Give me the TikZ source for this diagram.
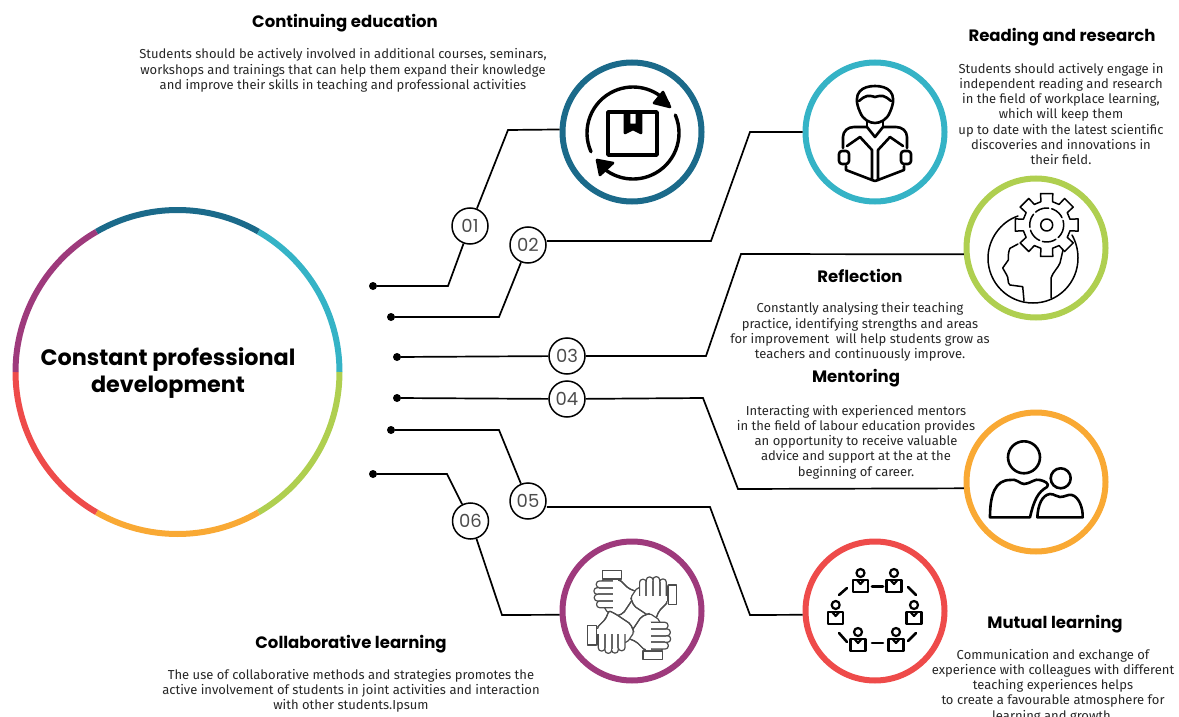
\documentclass[tikz,border=0pt]{standalone}
\usepackage{fontspec}
\setmainfont{Fira Sans}
\newfontfamily\numfont{Poppins}
\newfontfamily\headfont{Poppins}
\definecolor{cblue}{HTML}{1B6A8A}
\definecolor{cteal}{HTML}{35B3C6}
\definecolor{cgreen}{HTML}{AFCF50}
\definecolor{corange}{HTML}{F9A934}
\definecolor{cred}{HTML}{EE4B4A}
\definecolor{cpurple}{HTML}{9E3A7C}
\tikzset{
  seg/.style={line width=6pt},
  ringnode/.style={circle,draw,line width=6pt,minimum size=139pt,inner sep=0pt},
  numnode/.style={circle,draw=black,line width=1.5pt,fill=white,minimum size=36pt,inner sep=0pt,font=\numfont\fontsize{18}{18}\selectfont,text=black!70},
  conn/.style={draw=black,line width=1.7pt},
  dotnode/.style={circle,fill=black,minimum size=8pt,inner sep=0pt},
  titletext/.style={font=\headfont\bfseries\fontsize{16.5}{19}\selectfont,text=black,inner sep=0pt},
  bodytext/.style={font=\fontsize{13}{15.3}\selectfont,text=black!85,align=center,inner sep=0pt},
  iconthick/.style={draw=black,line width=3.4pt,line join=round,line cap=round},
  iconmid/.style={draw=black,line width=2.6pt,line join=round,line cap=round},
  iconthin/.style={draw=black,line width=1.5pt,line join=round,line cap=round},
  handline/.style={draw=black!70,line width=1.2pt,line join=round,fill=white},
  handfinger/.style={draw=black!60,line width=2pt},
}
\begin{document}
\begin{tikzpicture}[x=1pt,y=1pt,yscale=-1]
\clip (0,0) rectangle (1179,717);
% big ring
\coordinate (bigc) at (177.5,372);
\draw[seg,cblue]   (bigc) ++(240:162) arc[start angle=240,end angle=300,radius=162];
\draw[seg,cteal]   (bigc) ++(300:162) arc[start angle=300,end angle=360,radius=162];
\draw[seg,cgreen]  (bigc) ++(0:162)   arc[start angle=0,end angle=60,radius=162];
\draw[seg,corange] (bigc) ++(60:162)  arc[start angle=60,end angle=120,radius=162];
\draw[seg,cred]    (bigc) ++(120:162) arc[start angle=120,end angle=180,radius=162];
\draw[seg,cpurple] (bigc) ++(180:162) arc[start angle=180,end angle=240,radius=162];
\node[font=\headfont\bfseries\fontsize{22.3}{27}\selectfont,align=center,inner sep=0pt] (maintitle) at (168,373) {Constant professional\\development};
% rings
\node[ringnode,draw=cblue]   (r1) at (632,132) {};
\node[ringnode,draw=cteal]   (r2) at (875,132) {};
\node[ringnode,draw=cgreen]  (r3) at (1036,248) {};
\node[ringnode,draw=corange] (r4) at (1036,482) {};
\node[ringnode,draw=cred]    (r5) at (875,611) {};
\node[ringnode,draw=cpurple] (r6) at (632,611) {};
% bends
\coordinate (b1a) at (448,286);
\coordinate (b1b) at (508,130);
\coordinate (b2a) at (499,317);
\coordinate (b2b) at (711,241);
\coordinate (b2c) at (750,132);
\coordinate (b3a) at (706,356);
\coordinate (b3b) at (741,254);
\coordinate (b4a) at (703,398);
\coordinate (b4b) at (738,489);
\coordinate (b5a) at (499,430);
\coordinate (b5b) at (710,507);
\coordinate (b5c) at (750,615);
\coordinate (b6a) at (447,474);
\coordinate (b6b) at (502,615);
% number nodes
\node[numnode] (n1) at (470,226) {01};
\node[numnode] (n2) at (528,245) {02};
\node[numnode] (n3) at (567,356) {03};
\node[numnode] (n4) at (567,399) {04};
\node[numnode] (n5) at (528,501) {05};
\node[numnode] (n6) at (470.5,521) {06};
% dots
\node[dotnode] (d1) at (373,286) {};
\node[dotnode] (d2) at (391,317) {};
\node[dotnode] (d3) at (397,357) {};
\node[dotnode] (d4) at (397,398) {};
\node[dotnode] (d5) at (391,430) {};
\node[dotnode] (d6) at (373,474) {};
% connectors
\draw[conn] (d1) -- (b1a) -- (n1);
\draw[conn] (n1) -- (b1b) -- (r1.178);
\draw[conn] (d2) -- (b2a) -- (n2);
\draw[conn] (n2.east |- b2b) -- (b2b) -- (b2c) -- (r2.180);
\draw[conn] (d3) -- (n3);
\draw[conn] (n3) -- (b3a) -- (b3b) -- (r3.185);
\draw[conn] (d4) -- (n4);
\draw[conn] (n4) -- (b4a) -- (b4b) -- (r4.185.5);
\draw[conn] (d5) -- (b5a) -- (n5);
\draw[conn] (n5.east |- b5b) -- (b5b) -- (b5c) -- (r5.183);
\draw[conn] (d6) -- (b6a) -- (n6);
\draw[conn] (n6) -- (b6b) -- (r6.183);
% texts
\node[titletext] (t1) at (345,23) {Continuing education};
\node[bodytext] (b1) at (343,70.5) {Students should be actively involved in additional courses, seminars,\\workshops and trainings that can help them expand their knowledge\\and improve their skills in teaching and professional activities};
\node[titletext] (t2) at (1062,37) {Reading and research};
\node[bodytext] (b2) at (1061,114) {Students should actively engage in\\independent reading and research\\in the field of workplace learning,\\which will keep them\\up to date with the latest scientific\\discoveries and innovations in\\their field.};
\node[titletext] (t3) at (860,275.5) {Reflection};
\node[bodytext] (b3) at (860,332) {Constantly analysing their teaching\\practice, identifying strengths and areas\\for improvement\ \ will help students grow as\\teachers and continuously improve.};
\node[titletext] (t4) at (856,378.5) {Mentoring};
\node[bodytext] (b4) at (856,442) {Interacting with experienced mentors\\in the field of labour education provides\\an opportunity to receive valuable\\advice and support at the at the\\beginning of career.};
\node[titletext] (t5) at (1055,624) {Mutual learning};
\node[bodytext] (b5) at (1053,686) {Communication and exchange of\\experience with colleagues with different\\teaching experiences helps\\to create a favourable atmosphere for\\learning and growth.};
\node[titletext] (t6) at (351,644) {Collaborative learning};
\node[bodytext] (b6) at (351,691) {The use of collaborative methods and strategies promotes the\\active involvement of students in joint activities and interaction\\with other students.Ipsum};
% icon 1
\begin{scope}[shift={(633,133)}]
  \draw[iconthick] (-25,-21) rectangle (24,22);
  \filldraw[iconmid,fill=black] (-8,-21) -- (-8,0) -- (0,-4) -- (8,0) -- (8,-21) -- (4,-21) -- (4,-8) -- (-4,-8) -- (-4,-21) -- cycle;
  \draw[iconthick] (156:46) arc[start angle=156,end angle=321,radius=46];
  \draw[iconthick] (337:46) arc[start angle=337,end angle=497,radius=46];
  \filldraw[iconmid,fill=black] (37,-26) -- (30,-41) -- (21,-30) -- cycle;
  \filldraw[iconmid,fill=black] (-36,27) -- (-33,42) -- (-20,30) -- cycle;
\end{scope}
% icon 2
\draw[iconmid] (860,112) .. controls (851,92) and (863,86) .. (875,86) .. controls (887,86) and (899,92) .. (890,112) .. controls (887,120) and (880,123) .. (875,123) .. controls (870,123) and (863,120) .. (860,112) -- cycle;
\draw[iconmid] (859,101) .. controls (866,95) and (868,95) .. (875,97) .. controls (882,95) and (884,95) .. (891,101);
\draw[iconmid] (843,148) -- (843,137) .. controls (843,131) and (848,127) .. (854,127) -- (867,127) -- (875,137) -- (883,127) -- (896,127) .. controls (902,127) and (907,131) .. (907,137) -- (907,148);
\draw[iconmid] (867,127) -- (867,121);
\draw[iconmid] (883,127) -- (883,121);
\draw[iconmid] (847,146) -- (860,137) -- (872,150) -- (872,180) -- (846,170) -- (846,166);
\draw[iconmid] (903,146) -- (890,137) -- (878,150) -- (878,180) -- (904,170) -- (904,166);
\draw[iconmid] (872,180) -- (875,181) -- (878,180);
\draw[iconmid,rounded corners=3pt,fill=white] (839,151) rectangle (849,164);
\draw[iconmid,rounded corners=3pt,fill=white] (901,151) rectangle (911,164);
% icon 3
\draw[iconthin] (1018,216) .. controls (1000,222) and (988,240) .. (988,258) .. controls (988,283) and (1008,303) .. (1033,303) .. controls (1058,303) and (1078,283) .. (1078,258) .. controls (1078,250) and (1076,242) .. (1072,235);
\draw[iconthin] (1024,300.7) -- (1022.7,286.7) -- (1010,285) .. controls (1007,283) and (1009,278) .. (1006.7,275) -- (1002.7,268) -- (1008.3,260) .. controls (1008,254) and (1009,250) .. (1010,248.3) -- (1018,244);
\draw[iconthin] (1051,298) -- (1051,278) .. controls (1053,272) and (1058,268) .. (1060,263) -- (1063,250);
\begin{scope}[shift={(1046.7,225)}]
  \draw[iconthin,fill=white] (-14:24) \foreach \a in {0,45,...,315} { -- (\a-14:24) -- (\a-11:32) -- (\a+11:32) -- (\a+14:24) } -- cycle;
  \draw[iconthin] (0,0) circle[radius=6];
  \draw[iconthin,dash pattern=on 14pt off 3pt] (0,0) circle[radius=17];
\end{scope}
% icon 4
\draw[iconmid] (1024,457.3) circle[radius=16];
\draw[iconmid] (1060.7,478.3) circle[radius=10];
\draw[iconmid] (990,517.3) .. controls (990,495) and (995,480) .. (1010,480) .. controls (1016,478) and (1020,484) .. (1024,484) .. controls (1030,484) and (1035,478) .. (1040,480) .. controls (1045,481) and (1050,484) .. (1047,487) .. controls (1038,492) and (1034,500) .. (1030,517.3) -- cycle;
\draw[iconmid] (1037.3,517.3) .. controls (1038,505) and (1042,495) .. (1050,494) .. controls (1055,494) and (1056,497) .. (1060,497) .. controls (1065,497) and (1068,494) .. (1072,495) .. controls (1079,497) and (1083,508) .. (1082.7,517.3) -- cycle;
% icon 5
\foreach \px/\py in {860.5/586,894/586,835.7/618,914/618,858/645,896/645}{
  \begin{scope}[shift={(\px,\py)}]
    \draw[iconmid,line width=2.2pt] (0,-13) circle[radius=4];
    \draw[iconmid,line width=2.2pt] (-7.5,-6) rectangle (7.5,6);
    \draw[iconmid,line width=2.2pt] (-3.5,-6) -- (0,-2) -- (3.5,-6);
  \end{scope}
}
\draw[iconmid] (872,586.7) -- (883,586.7);
\draw[iconmid] (872,643) -- (883,643);
\draw[iconmid] (839,595) -- (847,588);
\draw[iconmid] (908,587) -- (916,595);
\draw[iconmid] (839,633) -- (847,642);
\draw[iconmid] (908,641) -- (916,633);
% icon 6
\foreach \r in {0,90,180,270}{
  \begin{scope}[shift={(632.3,615)},rotate=\r]
    \draw[handline] (-30,-44.5) rectangle (-10.7,-36);
    \draw[handline,rounded corners=2pt] (-30.7,-35) -- (-12.3,-35) -- (-4,-26.7) -- (4.3,-23.3) -- (1,-16.7) -- (-9,-1.7) -- (-17.3,1.7) -- (-27.3,-5) -- cycle;
    \draw[handline,rounded corners=3pt] (-36,-34) rectangle (-16,-27.3);
    \draw[handline,rounded corners=3pt] (-38.3,-27.3) rectangle (-16,-20.7);
    \draw[handline,rounded corners=3pt] (-38,-20.7) rectangle (-16,-14);
    \draw[handline,rounded corners=3pt] (-35.7,-14) rectangle (-16,-7.3);
    \fill[white] (-19,-35) rectangle (-14,-6.5);
    \draw[handfinger] (-33,-27.3) -- (-19,-27.3);
    \draw[handfinger] (-34,-20.7) -- (-19,-20.7);
    \draw[handfinger] (-33,-14) -- (-19,-14);
    \draw[handline,fill=none,rounded corners=2pt] (-12.3,-35) -- (-4,-26.7) -- (4.3,-23.3) -- (1,-16.7) -- (-9,-1.7) -- (-17.3,1.7);
  \end{scope}
}
\end{tikzpicture}
\end{document}
